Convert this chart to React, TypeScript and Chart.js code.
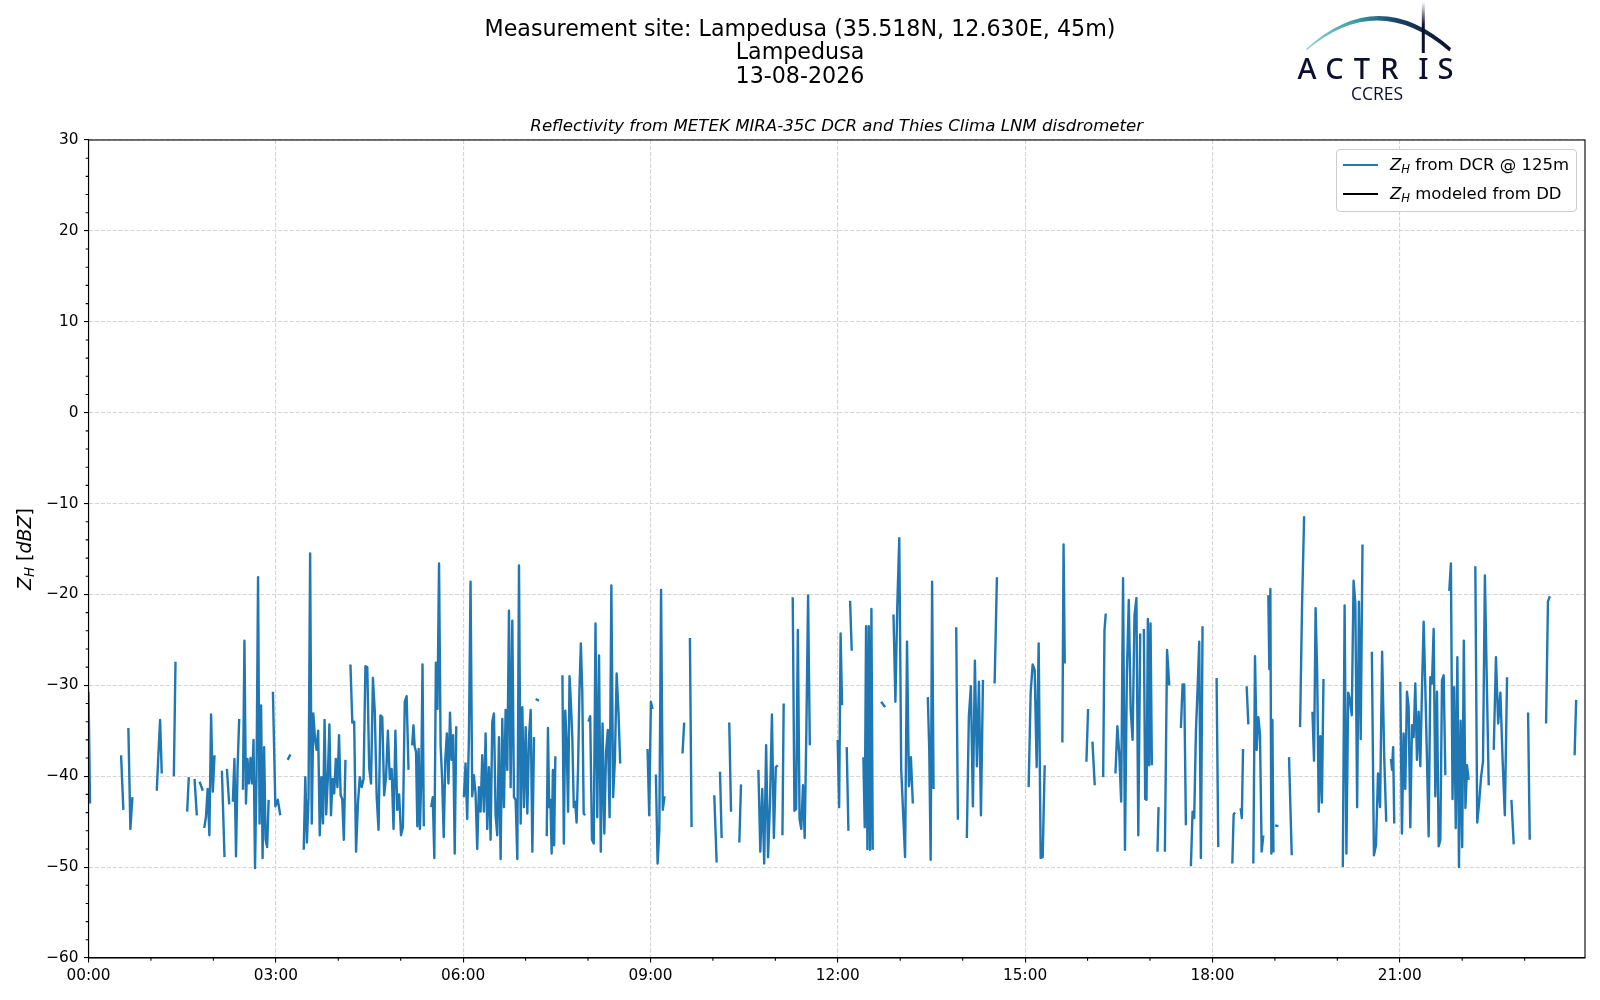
import React, { useEffect, useRef } from 'react';
import { Chart, registerables } from 'chart.js';

Chart.register(...registerables);

// ---- data ----------------------------------------------------------------
const xTickMinutes = [0, 180, 360, 540, 720, 900, 1080, 1260];
const xTickLabels = ['00:00', '03:00', '06:00', '09:00', '12:00', '15:00', '18:00', '21:00'];
const yTickValues = [-60, -50, -40, -30, -20, -10, 0, 10, 20, 30];

const seriesLabels = ['Z_H from DCR @ 125m', 'Z_H modeled from DD'];
const seriesColors = ['#1f77b4', '#000000'];

// DCR reflectivity, stored as runs of consecutive samples (minutes of the day)
const dcrSegStartMin = [
  0, 31.3, 38.3, 65.6, 82, 94.8, 101.9, 106.7, 111.2, 128.2,
  133, 138.7, 148.4, 177.2, 191.4, 206.8, 251.7, 311, 329.3, 360.7,
  429.7, 440.3, 455.4, 480.4, 537.2, 545.2, 570.8, 577.9, 601.3, 606.8,
  615.7, 625.4, 643.7, 666.8, 676.7, 719.9, 728.6, 731.8, 744.6, 761.6,
  773.5, 806.5, 833.8, 844, 870.7, 903.4, 935.8, 958.9, 964.7, 975,
  986.8, 1014.1, 1027.2, 1034.3, 1049.7, 1059.3, 1084, 1099.1, 1107.1, 1112.9,
  1119.3, 1133.7, 1140.2, 1153.6, 1164.2, 1176.1, 1205.3, 1233.2, 1251.5, 1260.5,
  1307.6, 1332.6, 1350.3, 1367.3, 1383.3, 1400.6, 1428,
];
const dcrSegEndMin = [
  1.5, 33.5, 42.2, 70.4, 83.6, 96.4, 104.1, 109.9, 121.1, 130.7,
  135.2, 144.8, 173.1, 184.3, 194, 246.9, 307.5, 322.2, 353.4, 428.1,
  432.9, 448.6, 477.2, 510.9, 542, 553.5, 572.4, 579.5, 603.6, 608.4,
  617.4, 627, 662.3, 668, 693.1, 724.1, 730.2, 733.4, 753.6, 765.5,
  792.1, 812, 835.4, 859.5, 872.9, 918.8, 938.1, 960.5, 966.9, 977.5,
  1010.6, 1021.8, 1028.2, 1038.5, 1054.5, 1070.5, 1085.6, 1101.7, 1109.4, 1114.5,
  1128.9, 1138.6, 1143.4, 1156.2, 1168.1, 1186.7, 1224.2, 1247, 1254.7, 1303.8,
  1326.2, 1345.5, 1363.1, 1369.5, 1384.9, 1404.2, 1429.5,
];
const dcrSegValues: number[][] = [
  [-30.7, -43.0],
  [-37.7, -43.7],
  [-34.7, -45.8, -42.3],
  [-41.6, -37.5, -33.8, -39.7],
  [-40.0, -27.4],
  [-43.9, -40.1],
  [-40.3, -44.3],
  [-40.6, -41.6],
  [-45.7, -44.5, -41.4, -46.5, -33.2, -41.7, -37.7],
  [-39.4, -48.9],
  [-39.2, -43.1],
  [-42.8, -38.1, -48.8, -39.0, -33.7],
  [-41.5, -25.1, -43.0, -38.1, -40.8, -38.0, -40.8, -36.0, -50.1, -39.7, -18.1, -45.2, -32.2, -49.0, -36.8, -47.0, -47.8, -42.6],
  [-30.7, -43.3, -42.6, -44.3],
  [-38.2, -37.6],
  [-48.1, -40.1, -47.3, -42.3, -15.5, -45.2, -33.1, -35.8, -37.1, -35.0, -46.5, -40.1, -45.2, -33.8, -44.2, -40.3, -34.3, -44.3, -40.3, -41.9, -38.1, -41.2, -35.5, -42.1, -42.5, -47.0, -38.2],
  [-27.7, -34.1, -34.0, -48.3, -43.0, -40.1, -41.2, -40.3, -27.9, -28.0, -39.1, -40.8, -29.2, -32.9, -42.2, -45.9, -33.3, -33.5, -42.1, -40.1, -35.0, -40.3, -39.2, -45.8, -35.0, -43.7, -42.0, -46.5, -45.6, -31.8, -31.2, -39.3],
  [-36.6, -34.4, -36.8, -37.3, -45.5, -37.0, -45.8, -40.5, -27.7, -45.5],
  [-43.4, -42.3, -49.0, -27.5, -32.6, -16.6, -36.6, -40.4, -46.7, -38.2, -35.3, -40.8, -33.0, -38.2, -35.5, -48.5, -34.5],
  [-42.3, -38.6, -44.7, -35.9, -18.6, -42.2, -39.9, -41.9, -48.0, -41.2, -43.9, -37.7, -43.9, -35.3, -45.8, -39.0, -47.0, -34.0, -33.1, -44.3, -46.5, -35.7, -49.1, -33.7, -43.4, -32.7, -39.3, -21.8, -41.2, -22.9, -42.3, -42.6, -49.1, -16.8, -45.2, -32.4, -43.4, -34.6, -44.1, -35.7, -32.7, -48.3, -35.7],
  [-31.5, -31.7],
  [-46.6, -34.7, -43.4, -42.6, -48.5, -39.3, -47.6, -37.8],
  [-28.9, -47.4, -32.8, -36.4, -43.9, -29.0, -32.0, -35.9, -43.4, -42.8, -45.1, -39.3, -30.6, -25.4, -30.6, -44.1, -44.3],
  [-34.0, -33.4, -47.0, -47.4, -23.2, -44.5, -26.7, -48.3, -34.2, -46.3, -37.3, -34.9, -44.5, -19.0, -42.3, -38.2, -28.7, -32.8, -38.6],
  [-37.0, -44.3, -31.8, -32.6],
  [-39.8, -49.6, -45.9, -19.5, -43.7, -42.2],
  [-37.5, -34.1],
  [-24.8, -45.6],
  [-42.1, -49.5],
  [-39.5, -46.8],
  [-34.1, -43.9],
  [-47.3, -40.9],
  [-39.3, -48.3, -41.4, -49.6, -36.6, -48.9, -42.8, -33.2, -46.8, -39.0, -38.8],
  [-46.5, -32.0],
  [-20.3, -43.8, -43.6, -23.9, -44.7, -45.8, -41.0, -46.8, -34.9, -20.1, -36.6],
  [-36.0, -43.4, -24.3, -32.2],
  [-36.8, -46.0],
  [-20.7, -26.2],
  [-37.9, -45.6, -23.5, -48.0, -23.5, -48.1, -21.6, -48.1],
  [-31.8, -32.4],
  [-22.2, -31.8, -21.0, -13.8, -39.2, -44.1, -48.9, -25.2, -41.1, -37.9, -43.0],
  [-31.3, -37.0, -49.2, -18.6, -41.4],
  [-23.6, -44.8],
  [-46.8, -33.4, -30.1, -43.3, -27.3, -38.9, -29.6, -44.3, -29.4],
  [-29.8, -18.1],
  [-41.2, -30.8, -27.7, -28.3, -39.0, -25.4, -49.0, -48.9, -38.8],
  [-36.3, -14.5, -27.6],
  [-38.4, -32.6],
  [-36.2, -41.0],
  [-40.1, -24.0, -22.1],
  [-39.7, -34.5, -37.5, -42.8, -18.2, -48.1, -28.7, -20.6, -32.7, -36.0, -22.3, -20.4, -46.5, -24.3],
  [-23.8, -42.5, -42.6, -22.7, -38.8, -23.2, -38.8],
  [-48.3, -43.4],
  [-48.3, -26.1, -30.0],
  [-34.7, -29.9, -29.9, -45.4],
  [-49.9, -43.9, -44.6, -35.2, -30.5, -25.2, -49.0, -23.5],
  [-29.2, -47.8],
  [-49.6, -44.2, -44.0],
  [-43.5, -44.6, -37.0],
  [-30.1, -34.3],
  [-49.6, -26.8, -37.1, -33.5, -35.4, -48.3, -46.5],
  [-20.1, -28.2, -19.4, -48.5, -33.8, -48.4],
  [-45.4, -45.5],
  [-37.9, -48.7],
  [-34.6, -21.0, -11.4],
  [-32.9, -38.3, -21.5, -28.5, -43.9, -35.6, -42.9, -29.3],
  [-50.0, -21.2, -48.5, -30.8, -31.6, -33.3, -18.5, -21.0, -43.4, -20.8, -35.9, -14.5],
  [-26.3, -48.7, -47.6, -39.7, -43.4, -26.3, -37.7, -45.0],
  [-38.1, -39.3, -36.8, -45.2],
  [-29.6, -46.3, -35.3, -41.4, -30.7, -32.4, -45.6, -34.4, -35.7, -29.8, -38.2, -32.9, -38.9, -30.5, -23.0, -30.2, -38.1, -46.6, -29.1, -29.8, -23.8, -42.2, -30.7, -47.7, -47.0, -29.4, -28.9, -39.9],
  [-19.6, -16.6, -42.5, -30.2, -45.7, -26.9, -50.0, -33.9, -47.8, -25.1, -43.5, -38.8, -40.4],
  [-16.9, -45.1, -42.9, -40.1, -38.4, -17.9, -29.6, -41.0],
  [-37.1, -26.9, -34.2, -30.8, -38.2, -44.3, -29.1],
  [-42.6, -47.5],
  [-33.0, -47.0],
  [-34.2, -20.8, -20.2],
  [-37.7, -31.6],
];

// modeled reflectivity from the disdrometer: no data on this day
const ddModeled: { x: number; y: number }[] = [];

// ---- helpers -------------------------------------------------------------
type Pt = { x: number; y: number | null };

function buildDcrPoints(): Pt[] {
  const pts: Pt[] = [];
  dcrSegValues.forEach((vals, i) => {
    const t0 = dcrSegStartMin[i];
    const t1 = dcrSegEndMin[i];
    const n = vals.length;
    vals.forEach((v, k) => {
      pts.push({ x: n > 1 ? t0 + ((t1 - t0) * k) / (n - 1) : t0, y: v });
    });
    pts.push({ x: t1 + 0.2, y: null });
  });
  return pts;
}

const tickFont = { family: 'DejaVu Sans', size: 15.3 };
const fmtMinus = (v: number) => (v < 0 ? '\u2212' + Math.abs(v) : String(v));

const framePlugin = {
  id: 'frameAndMinorTicks',
  afterDraw(chart: any) {
    const { ctx, chartArea: a, scales } = chart;
    ctx.save();
    ctx.strokeStyle = '#000';
    ctx.lineWidth = 1.1;
    ctx.strokeRect(a.left, a.top, a.right - a.left, a.bottom - a.top);
    ctx.beginPath();
    for (let m = 60; m <= 1440; m += 60) {
      if (m % 180 === 0) continue;
      const px = scales.x.getPixelForValue(m);
      if (px > a.right) break;
      ctx.moveTo(px, a.bottom);
      ctx.lineTo(px, a.bottom + 2.8);
    }
    for (let v = -58; v < 30; v += 2) {
      if (v % 10 === 0) continue;
      const py = scales.y.getPixelForValue(v);
      ctx.moveTo(a.left - 2.8, py);
      ctx.lineTo(a.left, py);
    }
    ctx.stroke();
    ctx.restore();
  },
};

const Zh: React.FC = () => (
  <span>
    <i>Z</i>
    <sub style={{ fontStyle: 'italic', fontSize: '0.7em', verticalAlign: '-0.25em', lineHeight: 0 }}>H</sub>
  </span>
);

const renderLabel = (s: string) =>
  s.startsWith('Z_H') ? (
    <>
      <Zh />
      {s.slice(3)}
    </>
  ) : (
    s
  );

const ActrisLogo: React.FC = () => (
  <svg width={350} height={110} style={{ position: 'absolute', left: 1250, top: 0 }}>
    <defs>
      <linearGradient id="arcGrad" x1="56" y1="0" x2="200" y2="0" gradientUnits="userSpaceOnUse">
        <stop offset="0" stopColor="#8fd3cc" />
        <stop offset="0.35" stopColor="#3b9ca6" />
        <stop offset="0.62" stopColor="#1b4467" />
        <stop offset="1" stopColor="#0c0f2d" />
      </linearGradient>
      <linearGradient id="barGrad" x1="0" y1="2" x2="0" y2="53" gradientUnits="userSpaceOnUse">
        <stop offset="0" stopColor="#ffffff" />
        <stop offset="0.45" stopColor="#0c0f2d" />
        <stop offset="1" stopColor="#0c0f2d" />
      </linearGradient>
    </defs>
    <path d="M56,49 Q128,-16.5 201,48 L199.5,51.5 Q128,-9.5 57,50 Z" fill="url(#arcGrad)" />
    <rect x={171.8} y={2} width={3} height={51} fill="url(#barGrad)" />
    <g
      fill="#0c0f2d"
      fontFamily="'Noto Sans', 'DejaVu Sans', sans-serif"
      fontSize={29}
      fontWeight={500}
      textAnchor="middle"
    >
      <text x={57} y={78.5}>A</text>
      <text x={84.5} y={78.5}>C</text>
      <text x={112} y={78.5}>T</text>
      <text x={139.5} y={78.5}>R</text>
      <text x={173.3} y={78.5}>I</text>
      <text x={195.5} y={78.5}>S</text>
    </g>
    <text x={127} y={99.5} fill="#0c0f2d" fontFamily="'Open Sans', sans-serif" fontSize={17.5} textAnchor="middle">
      CCRES
    </text>
  </svg>
);

const App: React.FC = () => {
  const canvasRef = useRef<HTMLCanvasElement>(null);
  const chartRef = useRef<Chart | null>(null);

  useEffect(() => {
    document.body.style.margin = '0';
    if (chartRef.current) chartRef.current.destroy();
    if (!canvasRef.current) return;

    const gridCommon = {
      color: '#d5d5d5',
      lineWidth: 1.1,
      tickColor: '#000',
      tickLength: 4.5,
      tickWidth: 1.1,
      tickBorderDash: [],
    };
    const borderCommon = { display: true, color: '#000', width: 1.1, dash: [4.1, 1.8] };

    chartRef.current = new Chart(canvasRef.current, {
      type: 'line',
      data: {
        datasets: [
          {
            label: seriesLabels[0],
            data: buildDcrPoints() as any,
            borderColor: seriesColors[0],
            backgroundColor: seriesColors[0],
            borderWidth: 2.4,
            pointRadius: 0,
            spanGaps: false,
            tension: 0,
            borderJoinStyle: 'round',
          },
          {
            label: seriesLabels[1],
            data: ddModeled as any,
            borderColor: seriesColors[1],
            backgroundColor: seriesColors[1],
            borderWidth: 2.4,
            pointRadius: 0,
          },
        ],
      },
      options: {
        animation: false,
        responsive: false,
        maintainAspectRatio: false,
        layout: { padding: { left: 0, right: 15, top: 140, bottom: 0 } },
        plugins: {
          legend: { display: false },
          title: { display: false },
          tooltip: { enabled: false },
        },
        scales: {
          x: {
            type: 'linear',
            min: 0,
            max: 1438,
            afterBuildTicks: (axis: any) => {
              axis.ticks = xTickMinutes.map((v) => ({ value: v }));
            },
            afterFit: (axis: any) => {
              axis.height = 42;
            },
            ticks: {
              autoSkip: false,
              maxRotation: 0,
              padding: 4,
              color: '#000',
              font: tickFont,
              callback: (v: any) => xTickLabels[xTickMinutes.indexOf(Number(v))] ?? '',
            },
            grid: gridCommon,
            border: borderCommon,
          },
          y: {
            type: 'linear',
            min: yTickValues[0],
            max: yTickValues[yTickValues.length - 1],
            afterFit: (axis: any) => {
              axis.width = 88.5;
            },
            ticks: {
              stepSize: 10,
              padding: 5.5,
              color: '#000',
              font: tickFont,
              callback: (v: any) => fmtMinus(Number(v)),
            },
            grid: gridCommon,
            border: borderCommon,
          },
        },
      },
      plugins: [framePlugin],
    });

    return () => {
      if (chartRef.current) chartRef.current.destroy();
      chartRef.current = null;
    };
  }, []);

  return (
    <div
      style={{
        position: 'relative',
        width: 1600,
        height: 1000,
        overflow: 'hidden',
        background: '#fff',
        fontFamily: "'DejaVu Sans', sans-serif",
        color: '#000',
      }}
    >
      <canvas ref={canvasRef} width={1600} height={1000} style={{ position: 'absolute', left: 0, top: 0 }} />

      <div
        style={{
          position: 'absolute',
          left: 0,
          top: 17,
          width: 1600,
          textAlign: 'center',
          fontSize: 22.2,
          lineHeight: '23.3px',
        }}
      >
        <div>Measurement site: Lampedusa (35.518N, 12.630E, 45m)</div>
        <div>Lampedusa</div>
        <div>13-08-2026</div>
      </div>

      <div
        style={{
          position: 'absolute',
          left: 88.5,
          width: 1496.5,
          top: 115,
          textAlign: 'center',
          fontSize: 16.6,
          lineHeight: '21px',
          fontStyle: 'italic',
        }}
      >
        Reflectivity from METEK MIRA-35C DCR and Thies Clima LNM disdrometer
      </div>

      <div
        style={{
          position: 'absolute',
          left: 24,
          top: 549,
          transform: 'translate(-50%, -50%) rotate(-90deg)',
          whiteSpace: 'nowrap',
          fontSize: 19,
          lineHeight: '22px',
        }}
      >
        <Zh /> [<i>dBZ</i>]
      </div>

      <div
        style={{
          position: 'absolute',
          left: 1336,
          top: 149,
          width: 241,
          height: 63,
          boxSizing: 'border-box',
          border: '1px solid #cccccc',
          borderRadius: 4,
          background: 'rgba(255,255,255,0.8)',
        }}
      >
        {seriesLabels.map((lab, i) => (
          <div key={lab} style={{ position: 'absolute', left: 0, top: i === 0 ? 15 : 44, width: '100%' }}>
            <div
              style={{
                position: 'absolute',
                left: 6,
                top: -1,
                width: 35,
                height: 2.2,
                background: seriesColors[i],
              }}
            />
            <div
              style={{
                position: 'absolute',
                left: 53,
                top: -10,
                fontSize: 16.5,
                lineHeight: '20px',
                whiteSpace: 'nowrap',
              }}
            >
              {renderLabel(lab)}
            </div>
          </div>
        ))}
      </div>

      <ActrisLogo />
    </div>
  );
};

export default App;
